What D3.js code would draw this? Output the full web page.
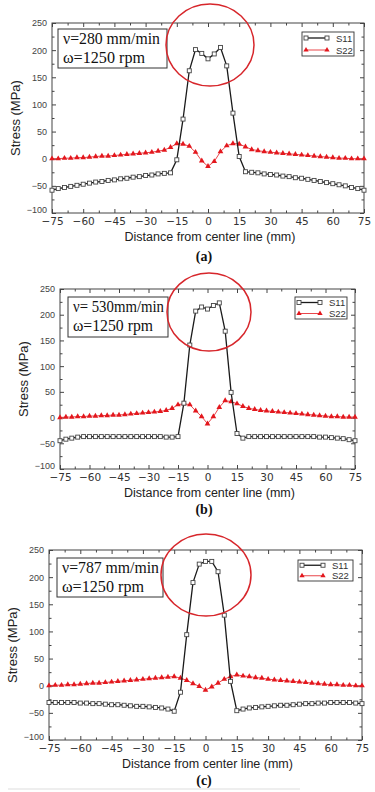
<!DOCTYPE html>
<html>
<head>
<meta charset="utf-8">
<script src="https://cdn.jsdelivr.net/npm/d3@7"></script>
<style>
  html, body { margin: 0; padding: 0; background: #fff; }
  svg { display: block; }
</style>
</head>
<body>
<svg id="chart"></svg>
<script>
const width = 375;
const height = 792;

// distance from center line (mm), shared by all three panels
const distance = [-75,-72,-69,-66,-63,-60,-57,-54,-51,-48,-45,-42,-39,-36,-33,-30,-27,-24,-21,-18,
  -15,-12,-9,-6,-3,0,3,6,9,12,15,
  18,21,24,27,30,33,36,39,42,45,48,51,54,57,60,63,66,69,72,75];

// (a) v = 280 mm/min
const s11A = [-58,-55,-53,-51,-49,-47,-45,-43,-42,-40,-39,-37,-36,-34,-33,-31,-30,-28,-27,-26,
  -2,73,162,201,194,184,193,205,171,84,4,
  -24,-25,-26,-28,-29,-30,-32,-33,-35,-36,-38,-40,-42,-44,-46,-48,-50,-53,-55,-58];
const s22A = [0,0,1,1,2,2,3,4,5,5,6,7,8,9,10,11,12,14,16,21,
  28,27,23,12,-4,-14,-5,13,24,28,27,
  22,17,15,13,12,11,10,9,8,7,6,5,4,3,2,1,1,0,0,0];

// (b) v = 530 mm/min
const s11B = [-45,-42,-40,-38,-37,-37,-37,-37,-37,-37,-37,-37,-37,-37,-37,-37,-37,-37,-38,-38,
  -37,28,141,207,215,211,218,223,168,49,-31,
  -40,-37,-37,-37,-37,-37,-37,-37,-37,-37,-37,-37,-37,-38,-38,-39,-40,-41,-43,-45];
const s22B = [0,1,1,2,2,3,3,4,4,5,5,6,7,8,9,10,11,12,14,18,
  25,27,25,13,2,-12,2,20,33,31,27,
  22,18,16,14,13,12,11,10,9,8,7,6,5,4,3,2,2,1,1,1];

// (c) v = 787 mm/min
const s11C = [-31,-31,-31,-31,-31,-32,-32,-33,-33,-34,-35,-35,-36,-37,-38,-38,-39,-40,-41,-43,
  -47,-12,94,190,224,229,229,210,130,8,-46,
  -43,-41,-40,-39,-38,-37,-36,-36,-35,-34,-33,-33,-32,-32,-31,-31,-31,-31,-32,-33];
const s22C = [0,1,1,2,2,3,4,5,5,6,7,8,9,10,11,12,13,14,15,16,
  17,14,10,4,-1,-8,-2,5,12,17,20,
  18,17,15,14,12,11,10,9,8,7,6,5,4,3,2,2,1,1,0,0];

const xTicks = [-75,-60,-45,-30,-15,0,15,30,45,60,75];
const xMinor = [-67.5,-52.5,-37.5,-22.5,-7.5,7.5,22.5,37.5,52.5,67.5];
const yTicks = [-100,-50,0,50,100,150,200,250];
const yMinor = [-75,-25,25,75,125,175,225];
const seriesNames = ["S11", "S22"];
const speedLabels = ["\u03bd=280 mm/min", "\u03bd= 530mm/min", "\u03bd=787 mm/min"];
const rpmLabel = "\u03c9=1250 rpm";
const panelLabels = ["(a)", "(b)", "(c)"];

// layout of each panel (pixels); tw = widths of the two annotation lines
const panels = [
  { s11: s11A, s22: s22A, l: 52, r: 364, t: 23, b: 213,
    box: [58, 29, 109, 39], tw: [97, 82], leg: [302, 32, 52, 24], circ: [210, 45, 44, 41], lab: 261 },
  { s11: s11B, s22: s22B, l: 60, r: 355, t: 289, b: 469,
    box: [68, 297, 100, 40], tw: [91, 80], leg: [295, 297, 52, 22], circ: [209, 312, 42, 39], lab: 514 },
  { s11: s11C, s22: s22C, l: 49, r: 362, t: 550, b: 740,
    box: [57, 558, 106, 39], tw: [97, 82], leg: [298, 560, 55, 21], circ: [206, 575, 45, 41], lab: 785 }
];

const svg = d3.select('#chart').attr('width', width).attr('height', height);

const sans = "'Liberation Sans', Arial, sans-serif";
const serif = "'Liberation Serif', 'Times New Roman', serif";
const red = "#e3171d";
const fmtX = d => d < 0 ? "\u2212" + Math.abs(d) : String(d);

panels.forEach((p, i) => drawPanel(p, i));

function drawPanel(p, i) {
  const g = svg.append('g');
  const x = d3.scaleLinear().domain([-75, 75]).range([p.l, p.r]);
  const y = d3.scaleLinear().domain([-100, 250]).range([p.b, p.t]);

  // frame
  g.append('rect')
    .attr('x', p.l).attr('y', p.t)
    .attr('width', p.r - p.l).attr('height', p.b - p.t)
    .attr('fill', 'none').attr('stroke', '#444').attr('stroke-width', 1);

  // axes, ticks point inward
  const bottom = g.append('g').attr('transform', `translate(0,${p.b})`)
    .call(d3.axisBottom(x).tickValues(xTicks).tickSize(-4).tickPadding(5).tickFormat(fmtX));
  g.append('g').attr('transform', `translate(0,${p.b})`)
    .call(d3.axisBottom(x).tickValues(xMinor).tickSize(-2.5).tickFormat(''));
  g.append('g').attr('transform', `translate(0,${p.t})`)
    .call(d3.axisTop(x).tickValues(xTicks).tickSize(-4).tickFormat(''));
  g.append('g').attr('transform', `translate(0,${p.t})`)
    .call(d3.axisTop(x).tickValues(xMinor).tickSize(-2.5).tickFormat(''));
  const left = g.append('g').attr('transform', `translate(${p.l},0)`)
    .call(d3.axisLeft(y).tickValues(yTicks).tickSize(-4).tickPadding(5).tickFormat(d3.format('d')));
  g.append('g').attr('transform', `translate(${p.l},0)`)
    .call(d3.axisLeft(y).tickValues(yMinor).tickSize(-2.5).tickFormat(''));
  g.append('g').attr('transform', `translate(${p.r},0)`)
    .call(d3.axisRight(y).tickValues(yTicks).tickSize(-4).tickFormat(''));
  g.append('g').attr('transform', `translate(${p.r},0)`)
    .call(d3.axisRight(y).tickValues(yMinor).tickSize(-2.5).tickFormat(''));

  g.selectAll('.domain').remove();
  g.selectAll('.tick line').attr('stroke', '#444');
  bottom.selectAll('text')
    .style('font-family', "'DejaVu Sans', sans-serif").style('font-size', '10.5px').attr('fill', '#333');
  left.selectAll('text')
    .style('font-family', sans).style('font-size', '9px').attr('fill', '#444');
  // the lowest y label sits just above the first x label, as in the original
  left.selectAll('.tick').filter(d => d === -100).select('text').attr('dy', '-0.05em');

  // axis titles
  g.append('text')
    .attr('x', (p.l + p.r) / 2 + 2).attr('y', p.b + 28)
    .attr('text-anchor', 'middle')
    .style('font-family', sans).style('font-size', '12.5px').attr('fill', '#222')
    .text('Distance from center line (mm)');
  g.append('text')
    .attr('transform', `translate(${p.l - 32},${(p.t + p.b) / 2}) rotate(-90)`)
    .attr('text-anchor', 'middle')
    .style('font-family', sans).style('font-size', '13px').attr('fill', '#222')
    .text('Stress (MPa)');

  // panel label
  g.append('text')
    .attr('x', 204).attr('y', p.lab)
    .attr('text-anchor', 'middle')
    .style('font-family', serif).style('font-size', '14px').style('font-weight', 'bold')
    .attr('fill', '#111')
    .text(panelLabels[i]);

  // series
  const line = d3.line().x((d, k) => x(distance[k])).y(d => y(d));
  g.append('path').datum(p.s22)
    .attr('d', line).attr('fill', 'none').attr('stroke', red).attr('stroke-width', 0.8);
  g.append('g').selectAll('path').data(p.s22).enter().append('path')
    .attr('d', d3.symbol(d3.symbolTriangle, 14))
    .attr('transform', (d, k) => `translate(${x(distance[k])},${y(d)})`)
    .attr('fill', red);

  g.append('path').datum(p.s11)
    .attr('d', line).attr('fill', 'none').attr('stroke', '#1a1a1a').attr('stroke-width', 1.3);
  g.append('g').selectAll('rect').data(p.s11).enter().append('rect')
    .attr('x', (d, k) => x(distance[k]) - 2).attr('y', d => y(d) - 2)
    .attr('width', 4).attr('height', 4)
    .attr('fill', '#fff').attr('stroke', '#444').attr('stroke-width', 0.9);

  // annotation box
  const bx = p.box;
  g.append('rect')
    .attr('x', bx[0]).attr('y', bx[1]).attr('width', bx[2]).attr('height', bx[3])
    .attr('fill', '#fff').attr('stroke', '#333').attr('stroke-width', 1);
  g.append('text')
    .attr('x', bx[0] + 5).attr('y', bx[1] + 15)
    .attr('textLength', p.tw[0]).attr('lengthAdjust', 'spacingAndGlyphs')
    .style('font-family', serif).style('font-size', '16px').attr('fill', '#111')
    .text(speedLabels[i]);
  g.append('text')
    .attr('x', bx[0] + 5).attr('y', bx[1] + 34)
    .attr('textLength', p.tw[1]).attr('lengthAdjust', 'spacingAndGlyphs')
    .style('font-family', serif).style('font-size', '16px').attr('fill', '#111')
    .text(rpmLabel);

  // legend
  const lg = p.leg;
  g.append('rect')
    .attr('x', lg[0]).attr('y', lg[1]).attr('width', lg[2]).attr('height', lg[3])
    .attr('fill', '#fff').attr('stroke', '#333').attr('stroke-width', 0.9);
  const rowH = lg[3] / 2;
  seriesNames.forEach((name, k) => {
    const yy = lg[1] + rowH * (k + 0.5);
    const x0 = lg[0] + 4, x1 = lg[0] + 25;
    g.append('line')
      .attr('x1', x0).attr('x2', x1).attr('y1', yy).attr('y2', yy)
      .attr('stroke', k === 0 ? '#1a1a1a' : red).attr('stroke-width', k === 0 ? 1.3 : 0.8);
    [x0, x1].forEach(xx => {
      if (k === 0) {
        g.append('rect').attr('x', xx - 2).attr('y', yy - 2).attr('width', 4).attr('height', 4)
          .attr('fill', '#fff').attr('stroke', '#444').attr('stroke-width', 0.9);
      } else {
        g.append('path').attr('d', d3.symbol(d3.symbolTriangle, 12))
          .attr('transform', `translate(${xx},${yy})`).attr('fill', red);
      }
    });
    g.append('text')
      .attr('x', lg[0] + 34).attr('y', yy + 3.5)
      .style('font-family', sans).style('font-size', '9.5px').attr('fill', '#333')
      .text(name);
  });

  // red highlight ellipse
  const c = p.circ;
  g.append('ellipse')
    .attr('cx', c[0]).attr('cy', c[1]).attr('rx', c[2]).attr('ry', c[3])
    .attr('fill', 'none').attr('stroke', '#d7262b').attr('stroke-width', 1.5);
}

// faint rule at the very bottom of the figure
svg.append('line')
  .attr('x1', 8).attr('x2', 300).attr('y1', 789).attr('y2', 789)
  .attr('stroke', '#ddd').attr('stroke-width', 1);
</script>
</body>
</html>
